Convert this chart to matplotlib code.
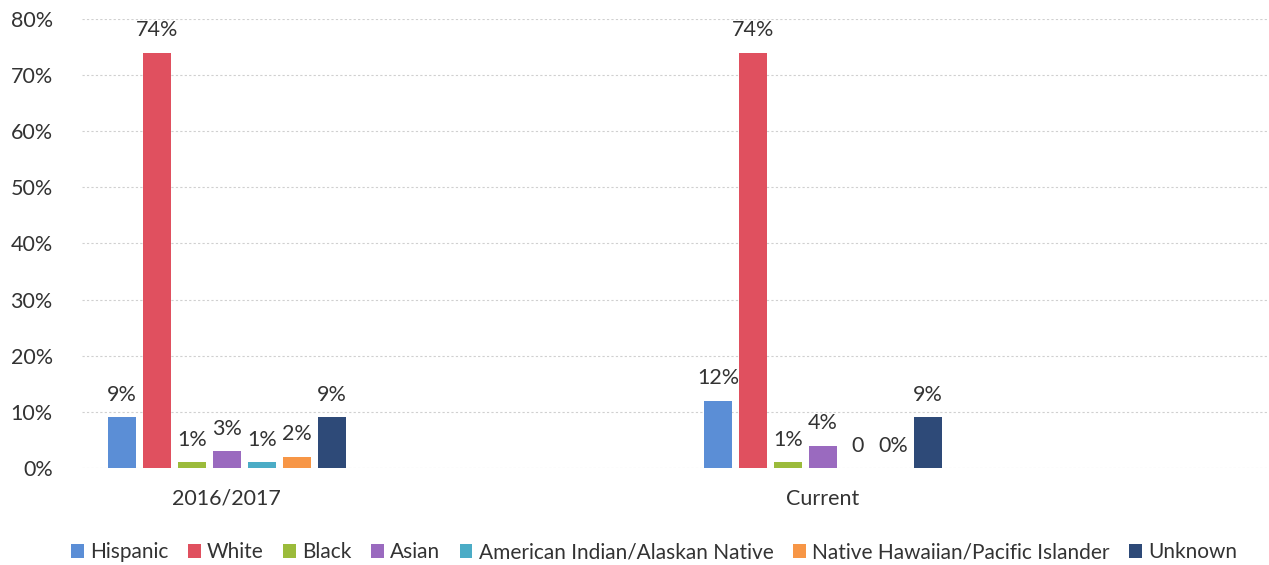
import matplotlib.pyplot as plt
import numpy as np

plt.rcParams['font.family'] = ['Lato', 'DejaVu Sans']

periods = ["2016/2017", "Current"]
groups = ["Hispanic", "White", "Black", "Asian", "American Indian/Alaskan Native",
          "Native Hawaiian/Pacific Islander", "Unknown"]
colors = ["#5b8ed6", "#e0505f", "#9bbb3b", "#9a6abf", "#4bacc6", "#f79646", "#2e4a78"]
# percent values per group, one entry per period
values = [
    [9, 12],
    [74, 74],
    [1, 1],
    [3, 4],
    [1, 0],
    [2, 0],
    [9, 9],
]
labels = [
    ["9%", "12%"],
    ["74%", "74%"],
    ["1%", "1%"],
    ["3%", "4%"],
    ["1%", "0"],
    ["2%", "0%"],
    ["9%", "9%"],
]

fig = plt.figure(figsize=(12.69, 5.65), dpi=100)
ax = fig.add_axes([0.0646, 0.1717, 0.9354, 0.7947])

x = np.arange(len(periods))
step = 0.0587
width = 0.047
for i, g in enumerate(groups):
    pos = x + (i - 3) * step
    ax.bar(pos, values[i], width, color=colors[i], label=g, zorder=3)
    for p, v, t in zip(pos, values[i], labels[i]):
        ax.text(p, v + 2.2, t, ha='center', va='bottom', fontsize=15.5, color='#333333')

ax.set_xlim(-0.243, 1.748)
ax.set_ylim(0, 80)
ax.set_yticks(range(0, 81, 10))
ax.set_yticklabels([f"{t}%" for t in range(0, 81, 10)])
ax.set_xticks(x)
ax.set_xticklabels(periods)
ax.tick_params(axis='both', length=0, labelsize=15.5, colors='#333333')
ax.tick_params(axis='y', pad=21)
ax.tick_params(axis='x', pad=15)
ax.grid(axis='y', color='#d0d0d0', linestyle=(0, (2, 2)), linewidth=0.8, zorder=0)
for s in ax.spines.values():
    s.set_visible(False)

ax.legend(loc='lower center', bbox_to_anchor=(0.482, -0.252), ncol=7, frameon=False,
          fontsize=15, handlelength=0.6, handleheight=0.6, handletextpad=0.3,
          columnspacing=0.95, labelcolor='#333333')

fig.savefig("out.png", dpi=100)
